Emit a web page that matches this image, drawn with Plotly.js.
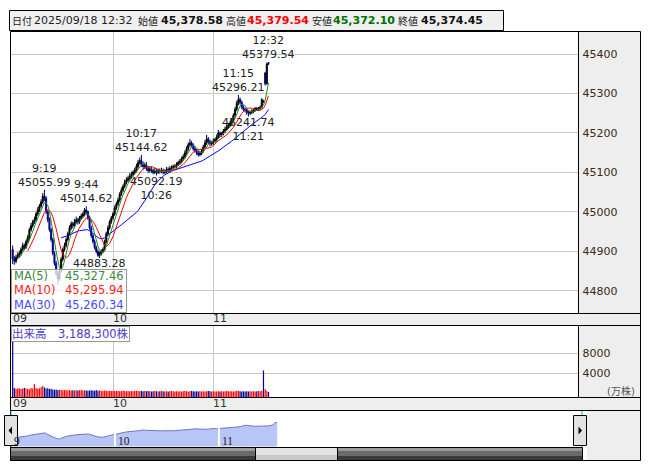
<!DOCTYPE html>
<html><head><meta charset="utf-8">
<script src="https://cdn.plot.ly/plotly-3.0.1.min.js"></script>
<style>html,body{margin:0;padding:0;background:#fff;}#chart{width:653px;height:470px;}</style>
</head><body><div id="chart"></div>
<script>
// ---- data (1-minute bars, 9:00..11:30, 12:30..12:32; x = bar index) ----
const hourTicks = [0, 60, 120];
const hourLabels = ['09', '10', '11'];

const openP = [44905,44880,44875,44885,44890,44895,44905,44915,44910,44925,
44935,44955,44965,44975,44980,44995,45005,45015,45025,45040,
45035,45000,44980,44955,44930,44895,44870,44845,44830,44850,
44880,44905,44915,44930,44945,44960,44970,44965,44975,44980,
44975,44985,44990,44995,45005,45000,44985,44960,44940,44925,
44910,44900,44890,44895,44900,44905,44925,44945,44960,44975,
44985,44995,45010,45020,45030,45045,45055,45065,45075,45080,
45085,45090,45095,45100,45105,45115,45125,45130,45120,45115,
45118,45110,45105,45108,45105,45100,45103,45100,45105,45102,
45105,45100,45102,45108,45105,45110,45112,45115,45115,45120,
45125,45128,45135,45140,45150,45160,45170,45175,45170,45160,
45155,45150,45145,45148,45155,45165,45175,45185,45178,45172,
45175,45180,45183,45190,45200,45195,45198,45205,45210,45215,
45220,45225,45232,45245,45260,45275,45285,45278,45265,45260,
45258,45252,45250,45252,45255,45258,45262,45260,45262,45265,
45282,45352,45325,45378.58];
const highP = [44915,44888,44892,44898,44902,44910,44922,44920,44930,44942,
44960,44972,44980,44988,45000,45012,45020,45032,45048,45055.99,
45040,45005,44986,44960,44935,44900,44876,44850,44856,44886,
44910,44922,44935,44950,44966,44976,44975,44982,44988,44985,
44990,44996,45000,45010,45014.62,45004,44990,44965,44945,44930,
44915,44905,44900,44905,44910,44930,44950,44966,44980,44990,
45000,45016,45026,45036,45050,45062,45070,45082,45088,45092,
45098,45102,45106,45112,45122,45132,45138,45144.62,45128,45125,
45126,45116,45115,45114,45110,45112,45108,45110,45110,45112,
45110,45108,45114,45113,45116,45118,45120,45121,45126,45130,
45134,45140,45146,45156,45166,45176,45185,45180,45174,45166,
45160,45155,45153,45160,45170,45182,45195,45190,45183,45180,
45186,45188,45196,45208,45204,45203,45210,45216,45220,45226,
45230,45238,45250,45266,45282,45296.21,45290,45282,45270,45265,
45262,45256,45257,45260,45262,45266,45266,45266,45270,45288,
45284,45355,45378,45379.54];
const lowP = [44868,44866,44870,44880,44884,44890,44900,44904,44906,44920,
44930,44950,44960,44970,44975,44990,45000,45010,45020,45028,
44995,44974,44950,44924,44890,44864,44838,44816,44825,44846,
44875,44900,44910,44925,44940,44954,44958,44960,44970,44968,
44970,44980,44985,44990,44994,44980,44955,44934,44920,44905,
44895,44886,44883.28,44890,44895,44900,44920,44940,44955,44970,
44980,44990,45005,45015,45025,45040,45050,45060,45070,45075,
45080,45085,45090,45096,45100,45110,45120,45114,45108,45110,
45104,45099,45100,45099,45095,45096,45092.19,45096,45097,45098,
45095,45096,45098,45100,45100,45105,45108,45110,45110,45116,
45120,45123,45130,45135,45145,45155,45165,45164,45155,45150,
45144,45140,45141,45144,45150,45160,45170,45172,45166,45168,
45170,45175,45178,45186,45190,45190,45194,45200,45205,45210,
45215,45220,45228,45240,45255,45270,45272,45260,45255,45252,
45246,45241.74,45245,45248,45250,45254,45256,45256,45258,45262,
45276,45320,45322,45372.10];
const closeP = [44880,44875,44885,44890,44895,44905,44915,44910,44925,44935,
44955,44965,44975,44980,44995,45005,45015,45025,45040,45035,
45000,44980,44955,44930,44895,44870,44845,44830,44850,44880,
44905,44915,44930,44945,44960,44970,44965,44975,44980,44975,
44985,44990,44995,45005,45000,44985,44960,44940,44925,44910,
44900,44890,44895,44900,44905,44925,44945,44960,44975,44985,
44995,45010,45020,45030,45045,45055,45065,45075,45080,45085,
45090,45095,45100,45105,45115,45125,45130,45120,45115,45118,
45110,45105,45108,45105,45100,45103,45100,45105,45102,45105,
45100,45102,45108,45105,45110,45112,45115,45115,45120,45125,
45128,45135,45140,45150,45160,45170,45175,45170,45160,45155,
45150,45145,45148,45155,45165,45175,45185,45178,45172,45175,
45180,45183,45190,45200,45195,45198,45205,45210,45215,45220,
45225,45232,45245,45260,45275,45285,45278,45265,45260,45258,
45252,45250,45252,45255,45258,45262,45260,45262,45265,45285,
45278,45325,45375,45374.45];
// volume in 万株
const volume = [14000,1100,950,1000,1050,900,1000,1100,1000,950,
850,1100,1000,1900,1100,950,1050,1250,1500,1200,
1000,1050,900,950,800,750,800,700,750,700,
650,700,650,650,700,600,650,600,650,600,
650,700,600,650,600,550,600,650,600,550,
700,550,600,550,500,600,550,500,550,500,
550,500,550,500,450,500,550,500,450,500,
450,500,450,500,550,500,450,500,450,500,
450,500,450,400,450,500,450,400,450,500,
450,400,450,400,450,500,450,400,450,400,
450,400,450,500,450,400,450,500,450,400,
450,400,450,400,450,400,450,500,450,400,
450,400,400,450,400,450,400,450,500,450,
400,450,400,450,500,550,450,400,450,400,
450,400,450,400,450,400,450,500,450,550,
4600,850,500,318.83];

// labelled extremes: [index, price, time label, price label, 'hi'|'lo']
const extremes = [
  [19, 45055.99, '9:19', '45055.99', 'hi'],
  [44, 45014.62, '9:44', '45014.62', 'hi'],
  [77, 45144.62, '10:17', '45144.62', 'hi'],
  [135, 45296.21, '11:15', '45296.21', 'hi'],
  [153, 45379.54, '12:32', '45379.54', 'hi'],
  [86, 45092.19, '10:26', '45092.19', 'lo'],
  [141, 45241.74, '11:21', '45241.74', 'lo']
];
const priceOnlyExtremes = [[52, 44883.28, '44883.28']];
const maLegend = [['MA(5)', '45,327.46', '#3a8a3a'], ['MA(10)', '45,295.94', '#ff2020'], ['MA(30)', '45,260.34', '#4848ff']];
const header = {date: '2025/09/18 12:32', open: '45,378.58', high: '45,379.54', low: '45,372.10', close: '45,374.45'};
const lastVolumeText = '出来高　3,188,300株';
const volumeFloor = -800;   // bottom of the volume scale (万株); bars rise from the panel floor

// ---- helpers ----
const W = 653, H = 470;
const px = x => x / W, py = y => 1 - y / H;
const FONT = 'DejaVu Sans, Noto Sans CJK JP, sans-serif';
const idx = closeP.map((_, i) => i);
function sma(arr, n) {
  return arr.map((v, i) => {
    if (i < n - 1) return null;
    let s = 0; for (let k = i - n + 1; k <= i; k++) s += arr[k];
    return s / n;
  });
}
const volColors = closeP.map((c, i) => {
  const prev = i === 0 ? openP[0] : closeP[i - 1];
  return c >= prev ? '#ff0000' : '#000099';
});

const traces = [
  {type: 'candlestick', x: idx, open: openP, high: highP, low: lowP, close: closeP,
   xaxis: 'x', yaxis: 'y', whiskerwidth: 0, hoverinfo: 'skip',
   increasing: {line: {color: '#000000', width: 1}, fillcolor: '#000000'},
   decreasing: {line: {color: '#00008b', width: 1}, fillcolor: '#00008b'}},
  {type: 'scatter', mode: 'lines', x: idx, y: sma(closeP, 30), xaxis: 'x', yaxis: 'y', line: {color: '#0000ff', width: 1}},
  {type: 'scatter', mode: 'lines', x: idx, y: sma(closeP, 10), xaxis: 'x', yaxis: 'y', line: {color: '#ff0000', width: 1}},
  {type: 'scatter', mode: 'lines', x: idx, y: sma(closeP, 5), xaxis: 'x', yaxis: 'y', line: {color: '#1e8c1e', width: 1}},
  {type: 'bar', x: idx, y: volume.map(v => v - volumeFloor), base: volumeFloor, xaxis: 'x2', yaxis: 'y2', width: 0.72,
   marker: {color: volColors, line: {width: 0}}},
  {type: 'scatter', mode: 'lines', x: idx, y: closeP, xaxis: 'x3', yaxis: 'y3', fill: 'tozeroy',
   fillcolor: '#b7c5f7', line: {color: '#7474c4', width: 1}}
];

const shapes = [];
function rect(x0, y0, x1, y1, fill, line, layer) {
  shapes.push({type: 'rect', xref: 'paper', yref: 'paper', x0: px(x0), x1: px(x1), y0: py(y1), y1: py(y0),
    fillcolor: fill || 'rgba(0,0,0,0)', line: {color: line || 'rgba(0,0,0,0)', width: line ? 1 : 0}, layer: layer || 'below'});
}
function hline(x0, x1, y, color) {
  shapes.push({type: 'line', xref: 'paper', yref: 'paper', x0: px(x0), x1: px(x1), y0: py(y), y1: py(y), line: {color: color || '#000', width: 1}, layer: 'above'});
}
function vline(x, y0, y1, color, w) {
  shapes.push({type: 'line', xref: 'paper', yref: 'paper', x0: px(x), x1: px(x), y0: py(y0), y1: py(y1), line: {color: color || '#000', width: w || 1}, layer: 'above'});
}
// panels
rect(9.5, 10.5, 503.5, 30.5, '#f0f0f0', '#000');
rect(578.5, 31.5, 640.5, 313.5, '#eeeeee');
rect(10.5, 313.5, 640.5, 325.5, '#eeeeee');
rect(578.5, 325.5, 640.5, 397.5, '#eeeeee');
rect(10.5, 397.5, 640.5, 410.5, '#eeeeee');
rect(587, 410.5, 640.5, 460.5, '#eeeeee');
// frame lines
hline(10.5, 640.5, 31.5); hline(10.5, 640.5, 313.5); hline(10.5, 640.5, 325.5);
hline(10.5, 640.5, 397.5); hline(10.5, 640.5, 410.5); hline(10.5, 640.5, 460.5);
vline(10.5, 31.5, 460.5); vline(578.5, 31.5, 313.5); vline(578.5, 325.5, 397.5); vline(640.5, 31.5, 460.5);
// navigator hour separators (white gaps)
[60, 120].forEach(v => shapes.push({type: 'line', xref: 'x3', yref: 'paper', x0: v - 0.6, x1: v - 0.6, y0: py(446), y1: py(420), line: {color: '#ffffff', width: 2}, layer: 'above'}));
// navigator cyan edges
vline(11, 411, 447, '#10a8e0'); vline(582, 411, 447, '#10a8e0');
// scrollbar track
rect(10.5, 447.5, 582.5, 460.5, '#6a6a6a', '#000');
rect(11, 448, 582, 451, '#9a9a9a');
rect(11, 456, 582, 460, '#3a3a3a');
// thumb
rect(255.5, 447.5, 337.5, 460.5, '#e4e4e4', '#000');
rect(256, 455, 337, 460, '#c8c8c8');
// buttons
rect(4.5, 415.5, 17.5, 445.5, '#e2e2e2', '#000', 'above');
rect(573.5, 415.5, 586.5, 445.5, '#e2e2e2', '#000', 'above');
shapes.push({type: 'path', xref: 'paper', yref: 'paper', path: `M ${px(12)} ${py(426.5)} L ${px(8.5)} ${py(430.5)} L ${px(12)} ${py(434.5)} Z`, fillcolor: '#000', line: {width: 0}, layer: 'above'});
shapes.push({type: 'path', xref: 'paper', yref: 'paper', path: `M ${px(578.5)} ${py(426.5)} L ${px(582)} ${py(430.5)} L ${px(578.5)} ${py(434.5)} Z`, fillcolor: '#000', line: {width: 0}, layer: 'above'});

const annotations = [];
function ptext(x, y, text, opts) {
  annotations.push(Object.assign({xref: 'paper', yref: 'paper', x: px(x), y: py(y), text: text, showarrow: false,
    xanchor: 'left', yanchor: 'middle', font: {family: FONT, size: 11, color: '#222'}}, opts || {}));
}
// header
const kanjiFont = {family: 'Noto Sans CJK JP, sans-serif', size: 10, color: '#222'};
const numFont = c => ({family: FONT, size: 11, color: c});
ptext(10, 20.5, '日付', {font: kanjiFont});
ptext(32, 20.5, header.date, {font: numFont('#222')});
ptext(136, 20.5, '始値', {font: kanjiFont});
ptext(159, 20.5, '<b>' + header.open + '</b>', {font: numFont('#111')});
ptext(224, 20.5, '高値', {font: kanjiFont});
ptext(245, 20.5, '<b>' + header.high + '</b>', {font: numFont('#ff0000')});
ptext(310, 20.5, '安値', {font: kanjiFont});
ptext(331, 20.5, '<b>' + header.low + '</b>', {font: numFont('#007000')});
ptext(396, 20.5, '終値', {font: kanjiFont});
ptext(419, 20.5, '<b>' + header.close + '</b>', {font: numFont('#111')});

const lblFont = {family: FONT, size: 11, color: '#222'};
// MA legend box (semi-transparent)
annotations.push({xref: 'paper', yref: 'paper', x: px(10.5), y: py(268.5), xanchor: 'left', yanchor: 'top', text: ' ',
  width: 112, height: 40, bgcolor: 'rgba(255,255,255,0.75)', bordercolor: '#999', borderwidth: 1, showarrow: false});
maLegend.forEach(([name, val, col], k) => {
  ptext(12, 275.5 + k * 14.5, name, {font: {family: FONT, size: 11.5, color: col}});
  ptext(126, 275.5 + k * 14.5, val, {xanchor: 'right', font: {family: FONT, size: 11.5, color: col}});
});
// high/low labels: time above price for highs, price above time for lows
extremes.forEach(([i, p, t, ptxt, kind]) => {
  const hi = kind === 'hi';
  annotations.push({xref: 'x', yref: 'y', x: i, y: p, text: hi ? t + '<br>' + ptxt : ptxt + '<br>' + t,
    showarrow: false, xanchor: 'center', yanchor: hi ? 'bottom' : 'top', yshift: hi ? 0 : 2, borderpad: 0, font: lblFont});
});
priceOnlyExtremes.forEach(([i, p, ptxt]) => {
  annotations.push({xref: 'x', yref: 'y', x: i, y: p, text: ptxt, showarrow: false, xanchor: 'center', yanchor: 'top', yshift: 2, borderpad: 0, font: lblFont});
});
// hour labels
hourTicks.forEach((v, k) => {
  annotations.push({xref: 'x', yref: 'paper', x: v, y: py(318.5), text: hourLabels[k], showarrow: false, xanchor: 'left', yanchor: 'middle', xshift: -2, font: {family: FONT, size: 11, color: '#333'}});
  annotations.push({xref: 'x2', yref: 'paper', x: v, y: py(403.5), text: hourLabels[k], showarrow: false, xanchor: 'left', yanchor: 'middle', xshift: -2, font: {family: FONT, size: 11, color: '#333'}});
  annotations.push({xref: 'x3', yref: 'paper', x: v, y: py(441), text: String(parseInt(hourLabels[k], 10)), showarrow: false, xanchor: 'left', yanchor: 'middle', xshift: 0, font: {family: 'Liberation Serif, serif', size: 11.5, color: '#222'}});
});
// volume label
annotations.push({xref: 'paper', yref: 'paper', x: px(10.5), y: py(326), xanchor: 'left', yanchor: 'top', text: lastVolumeText, showarrow: false,
  bgcolor: '#ffffff', bordercolor: '#999', borderwidth: 1, borderpad: 0, font: {family: FONT, size: 11.5, color: '#4b3bc8'}});
ptext(637, 391, '(万株)', {xanchor: 'right', font: {family: FONT, size: 10, color: '#555'}});

const axFont = {family: FONT, size: 11, color: '#3a2a10'};
const layout = {
  width: W, height: H, margin: {l: 0, r: 0, t: 0, b: 0},
  paper_bgcolor: '#ffffff', plot_bgcolor: '#ffffff', showlegend: false, hovermode: false,
  boxgap: 0.12,
  font: {family: FONT, size: 11, color: '#333'},
  xaxis: {domain: [px(10.5), px(578.5)], range: [-1.3, 338.4], tickvals: [60, 120], showticklabels: false, ticks: '',
    showgrid: true, gridcolor: '#c8c8c8', gridwidth: 1, zeroline: false, showline: false, rangeslider: {visible: false}, fixedrange: true},
  yaxis: {domain: [py(313.5), py(31.5)], range: [44742.7, 45457.1], side: 'right', tickvals: [44800, 44900, 45000, 45100, 45200, 45300, 45400],
    tickformat: 'd', ticks: '', ticklabelstandoff: 3, showgrid: true, gridcolor: '#c8c8c8', zeroline: false, showline: false, tickfont: axFont, fixedrange: true},
  xaxis2: {anchor: 'y2', domain: [px(10.5), px(578.5)], range: [-1.3, 338.4], tickvals: [60, 120], showticklabels: false, ticks: '',
    showgrid: true, gridcolor: '#c8c8c8', zeroline: false, showline: false, fixedrange: true},
  yaxis2: {anchor: 'x2', domain: [py(397.5), py(325.5)], range: [volumeFloor, 13600], side: 'right', tickvals: [4000, 8000],
    tickformat: 'd', ticks: '', ticklabelstandoff: 3, showgrid: true, gridcolor: '#c8c8c8', zeroline: false, showline: false, tickfont: axFont, fixedrange: true},
  xaxis3: {anchor: 'y3', domain: [px(10.5), px(587)], range: [-0.87, 331.8], visible: false, fixedrange: true},
  yaxis3: {anchor: 'x3', domain: [py(446.5), py(411)], range: [44590, 45750], visible: false, fixedrange: true},
  shapes: shapes,
  annotations: annotations
};
Plotly.newPlot('chart', traces, layout, {staticPlot: true, displayModeBar: false});
</script>
</body></html>
